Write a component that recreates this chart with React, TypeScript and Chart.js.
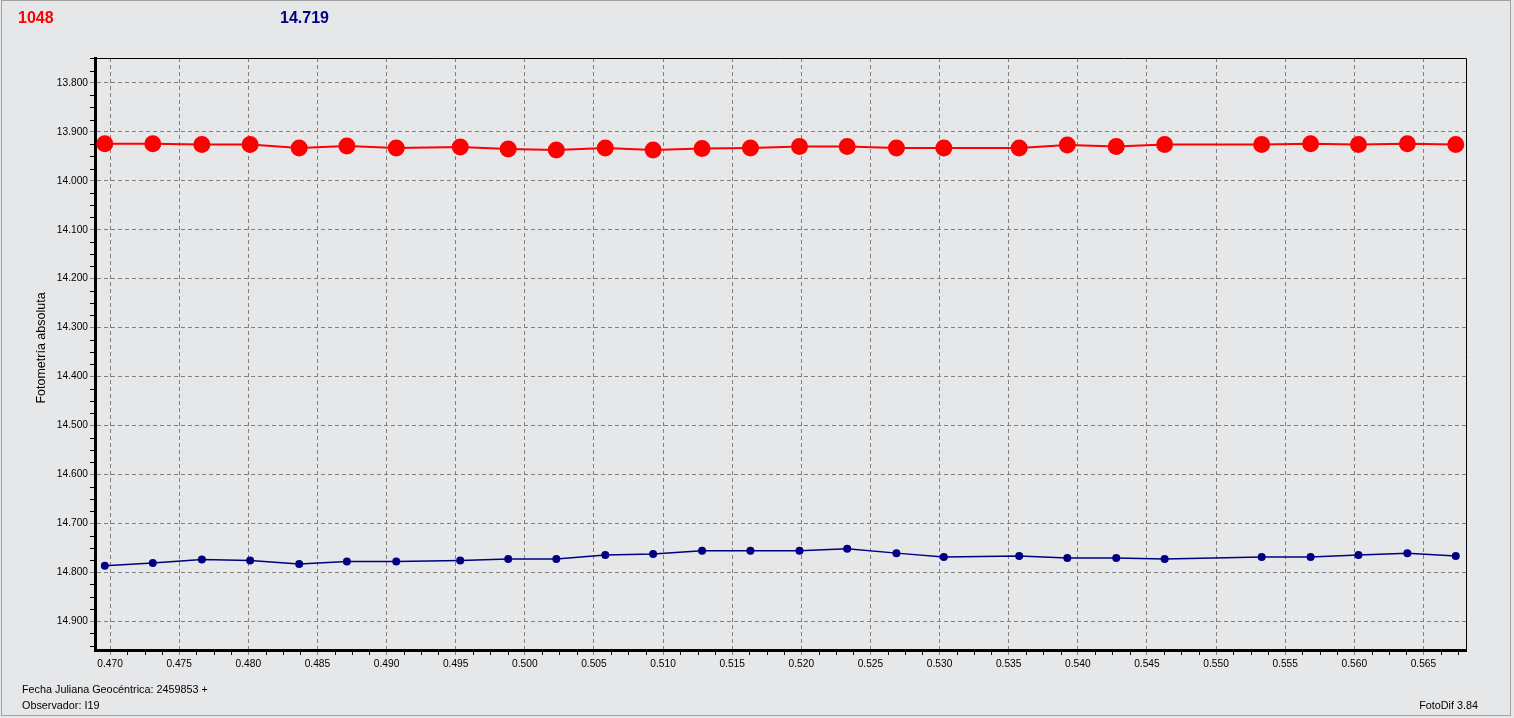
import React, { useEffect, useRef } from "react";
import { Chart, registerables } from "chart.js";

Chart.register(...registerables);

// Julian date fraction (2459853 + x)
const jdFraction = [
  0.46962, 0.47309, 0.47664, 0.48013, 0.48368, 0.48713, 0.4907, 0.49533, 0.4988,
  0.50228, 0.50582, 0.50928, 0.51282, 0.51632, 0.51987, 0.52332, 0.52688, 0.53031,
  0.53576, 0.53924, 0.54278, 0.54628, 0.5533, 0.55684, 0.5603, 0.56384, 0.56734,
];

// red series (variable)
const magRed = [
  13.9245, 13.9245, 13.926, 13.926, 13.933, 13.929, 13.933, 13.931, 13.935,
  13.937, 13.933, 13.937, 13.934, 13.933, 13.93, 13.93, 13.933, 13.933,
  13.933, 13.927, 13.93, 13.926, 13.926, 13.9245, 13.926, 13.9245, 13.926,
];

// blue series (comparison)
const magBlue = [
  14.787, 14.781, 14.774, 14.776, 14.783, 14.778, 14.778, 14.776, 14.773,
  14.773, 14.765, 14.763, 14.756, 14.756, 14.756, 14.752, 14.761, 14.769,
  14.767, 14.771, 14.771, 14.773, 14.769, 14.769, 14.765, 14.761, 14.767,
];

const xTickValues = [
  0.47, 0.475, 0.48, 0.485, 0.49, 0.495, 0.5, 0.505, 0.51, 0.515, 0.52, 0.525,
  0.53, 0.535, 0.54, 0.545, 0.55, 0.555, 0.56, 0.565,
];
const yTickValues = [
  13.8, 13.9, 14.0, 14.1, 14.2, 14.3, 14.4, 14.5, 14.6, 14.7, 14.8, 14.9,
];

const headerRed = "1048";
const headerBlue = "14.719";
const yTitle = "Fotometría absoluta";
const footerLine1 = "Fecha Juliana Geocéntrica: 2459853 +";
const footerLine2 = "Observador: I19";
const footerRight = "FotoDif 3.84";

const X_MIN = 0.46891;
const X_MAX = 0.56808;
const Y_MIN = 13.749;
const Y_MAX = 14.959;

const BG = "#e6e7e9";
const FONT = "'Liberation Sans', Arial, sans-serif";

const decorPlugin = {
  id: "decor",
  beforeDraw(chart: any) {
    const { ctx, width, height } = chart;
    ctx.save();
    ctx.fillStyle = BG;
    ctx.fillRect(0, 0, width, height);
    ctx.restore();
  },
  afterDraw(chart: any) {
    const { ctx, chartArea } = chart;
    const xs = chart.scales.x;
    const ys = chart.scales.y;
    ctx.save();
    // top and right frame of plot
    ctx.strokeStyle = "#000";
    ctx.lineWidth = 1;
    ctx.beginPath();
    ctx.moveTo(chartArea.left, Math.round(chartArea.top) + 0.5);
    ctx.lineTo(chartArea.right + 0.5, Math.round(chartArea.top) + 0.5);
    ctx.lineTo(chartArea.right + 0.5, chartArea.bottom);
    ctx.stroke();

    // minor ticks
    ctx.beginPath();
    for (let v = 0.465; v <= X_MAX + 1e-9; v += 0.00125) {
      if (v < X_MIN) continue;
      const isMajor = Math.abs(v / 0.005 - Math.round(v / 0.005)) < 1e-6;
      if (isMajor) continue;
      const px = Math.round(xs.getPixelForValue(v)) + 0.5;
      ctx.moveTo(px, chartArea.bottom + 1);
      ctx.lineTo(px, chartArea.bottom + 5);
    }
    for (let v = 13.725; v <= Y_MAX + 1e-9; v += 0.025) {
      if (v < Y_MIN) continue;
      const isMajor = Math.abs(v / 0.1 - Math.round(v / 0.1)) < 1e-6;
      if (isMajor) continue;
      const py = Math.round(ys.getPixelForValue(v)) + 0.5;
      ctx.moveTo(chartArea.left - 1, py);
      ctx.lineTo(chartArea.left - 5, py);
    }
    ctx.stroke();

    // header numbers
    ctx.textBaseline = "middle";
    ctx.textAlign = "left";
    ctx.font = `bold 16px ${FONT}`;
    ctx.fillStyle = "#ff0000";
    ctx.fillText(headerRed, 18, 19);
    ctx.fillStyle = "#000080";
    ctx.fillText(headerBlue, 280, 19);

    // y title
    ctx.fillStyle = "#000";
    ctx.font = `12.5px ${FONT}`;
    ctx.save();
    ctx.translate(42, 348);
    ctx.rotate(-Math.PI / 2);
    ctx.textAlign = "center";
    ctx.fillText(yTitle, 0, 0);
    ctx.restore();

    // footers
    ctx.font = `10.8px ${FONT}`;
    ctx.textAlign = "left";
    ctx.fillText(footerLine1, 22, 690);
    ctx.fillText(footerLine2, 22, 706);
    ctx.textAlign = "right";
    ctx.fillText(footerRight, 1478, 706);

    // outer frame
    ctx.strokeStyle = "#a0a0a0";
    ctx.lineWidth = 1;
    ctx.strokeRect(1.5, 0.5, 1509, 715);
    ctx.restore();
  },
};

export default function App() {
  const canvasRef = useRef<HTMLCanvasElement | null>(null);

  useEffect(() => {
    document.body.style.margin = "0";
    const canvas = canvasRef.current;
    if (!canvas) return;
    const chart = new Chart(canvas, {
      type: "line",
      data: {
        datasets: [
          {
            label: "Variable",
            data: jdFraction.map((x, i) => ({ x, y: magRed[i] })),
            borderColor: "#ff0000",
            backgroundColor: "#ff0000",
            borderWidth: 2,
            pointRadius: 8.5,
            pointBorderWidth: 0,
            pointBackgroundColor: "#ff0000",
            tension: 0,
          },
          {
            label: "Comparación",
            data: jdFraction.map((x, i) => ({ x, y: magBlue[i] })),
            borderColor: "#000080",
            backgroundColor: "#000080",
            borderWidth: 1.5,
            pointRadius: 4,
            pointBorderWidth: 0,
            pointBackgroundColor: "#000080",
            tension: 0,
          },
        ],
      },
      options: {
        responsive: false,
        animation: false,
        events: [],
        layout: { padding: { left: 0, right: 48, top: 58, bottom: 0 } },
        plugins: {
          legend: { display: false },
          tooltip: { enabled: false },
          title: { display: false },
        },
        scales: {
          x: {
            type: "linear",
            min: X_MIN,
            max: X_MAX,
            afterBuildTicks: (s: any) => {
              s.ticks = xTickValues.map((v) => ({ value: v }));
            },
            afterFit: (s: any) => {
              s.height = 68;
            },
            ticks: {
              callback: (v: any) => Number(v).toFixed(3),
              color: "#000",
              font: { family: FONT, size: 10.2 },
              padding: 3,
              maxRotation: 0,
              autoSkip: false,
            },
            grid: {
              color: "#808080",
              lineWidth: 1,
              tickLength: 5,
              tickColor: "#808080",
              drawTicks: true,
            },
            border: { display: true, color: "#000", width: 3, dash: [4, 3] },
          },
          y: {
            type: "linear",
            reverse: true,
            min: Y_MIN,
            max: Y_MAX,
            afterBuildTicks: (s: any) => {
              s.ticks = yTickValues.map((v) => ({ value: v }));
            },
            afterFit: (s: any) => {
              s.width = 95;
            },
            ticks: {
              callback: (v: any) => Number(v).toFixed(3),
              color: "#000",
              font: { family: FONT, size: 10.2 },
              padding: 2,
              autoSkip: false,
            },
            grid: {
              color: "#808080",
              lineWidth: 1,
              tickLength: 5,
              tickColor: "#808080",
              drawTicks: true,
            },
            border: { display: true, color: "#000", width: 3, dash: [4, 3] },
          },
        },
      },
      plugins: [decorPlugin],
    });
    return () => chart.destroy();
  }, []);

  return (
    <div style={{ width: 1514, height: 718, overflow: "hidden" }}>
      <canvas
        ref={canvasRef}
        width={1514}
        height={718}
        style={{ display: "block", width: 1514, height: 718 }}
      />
    </div>
  );
}
